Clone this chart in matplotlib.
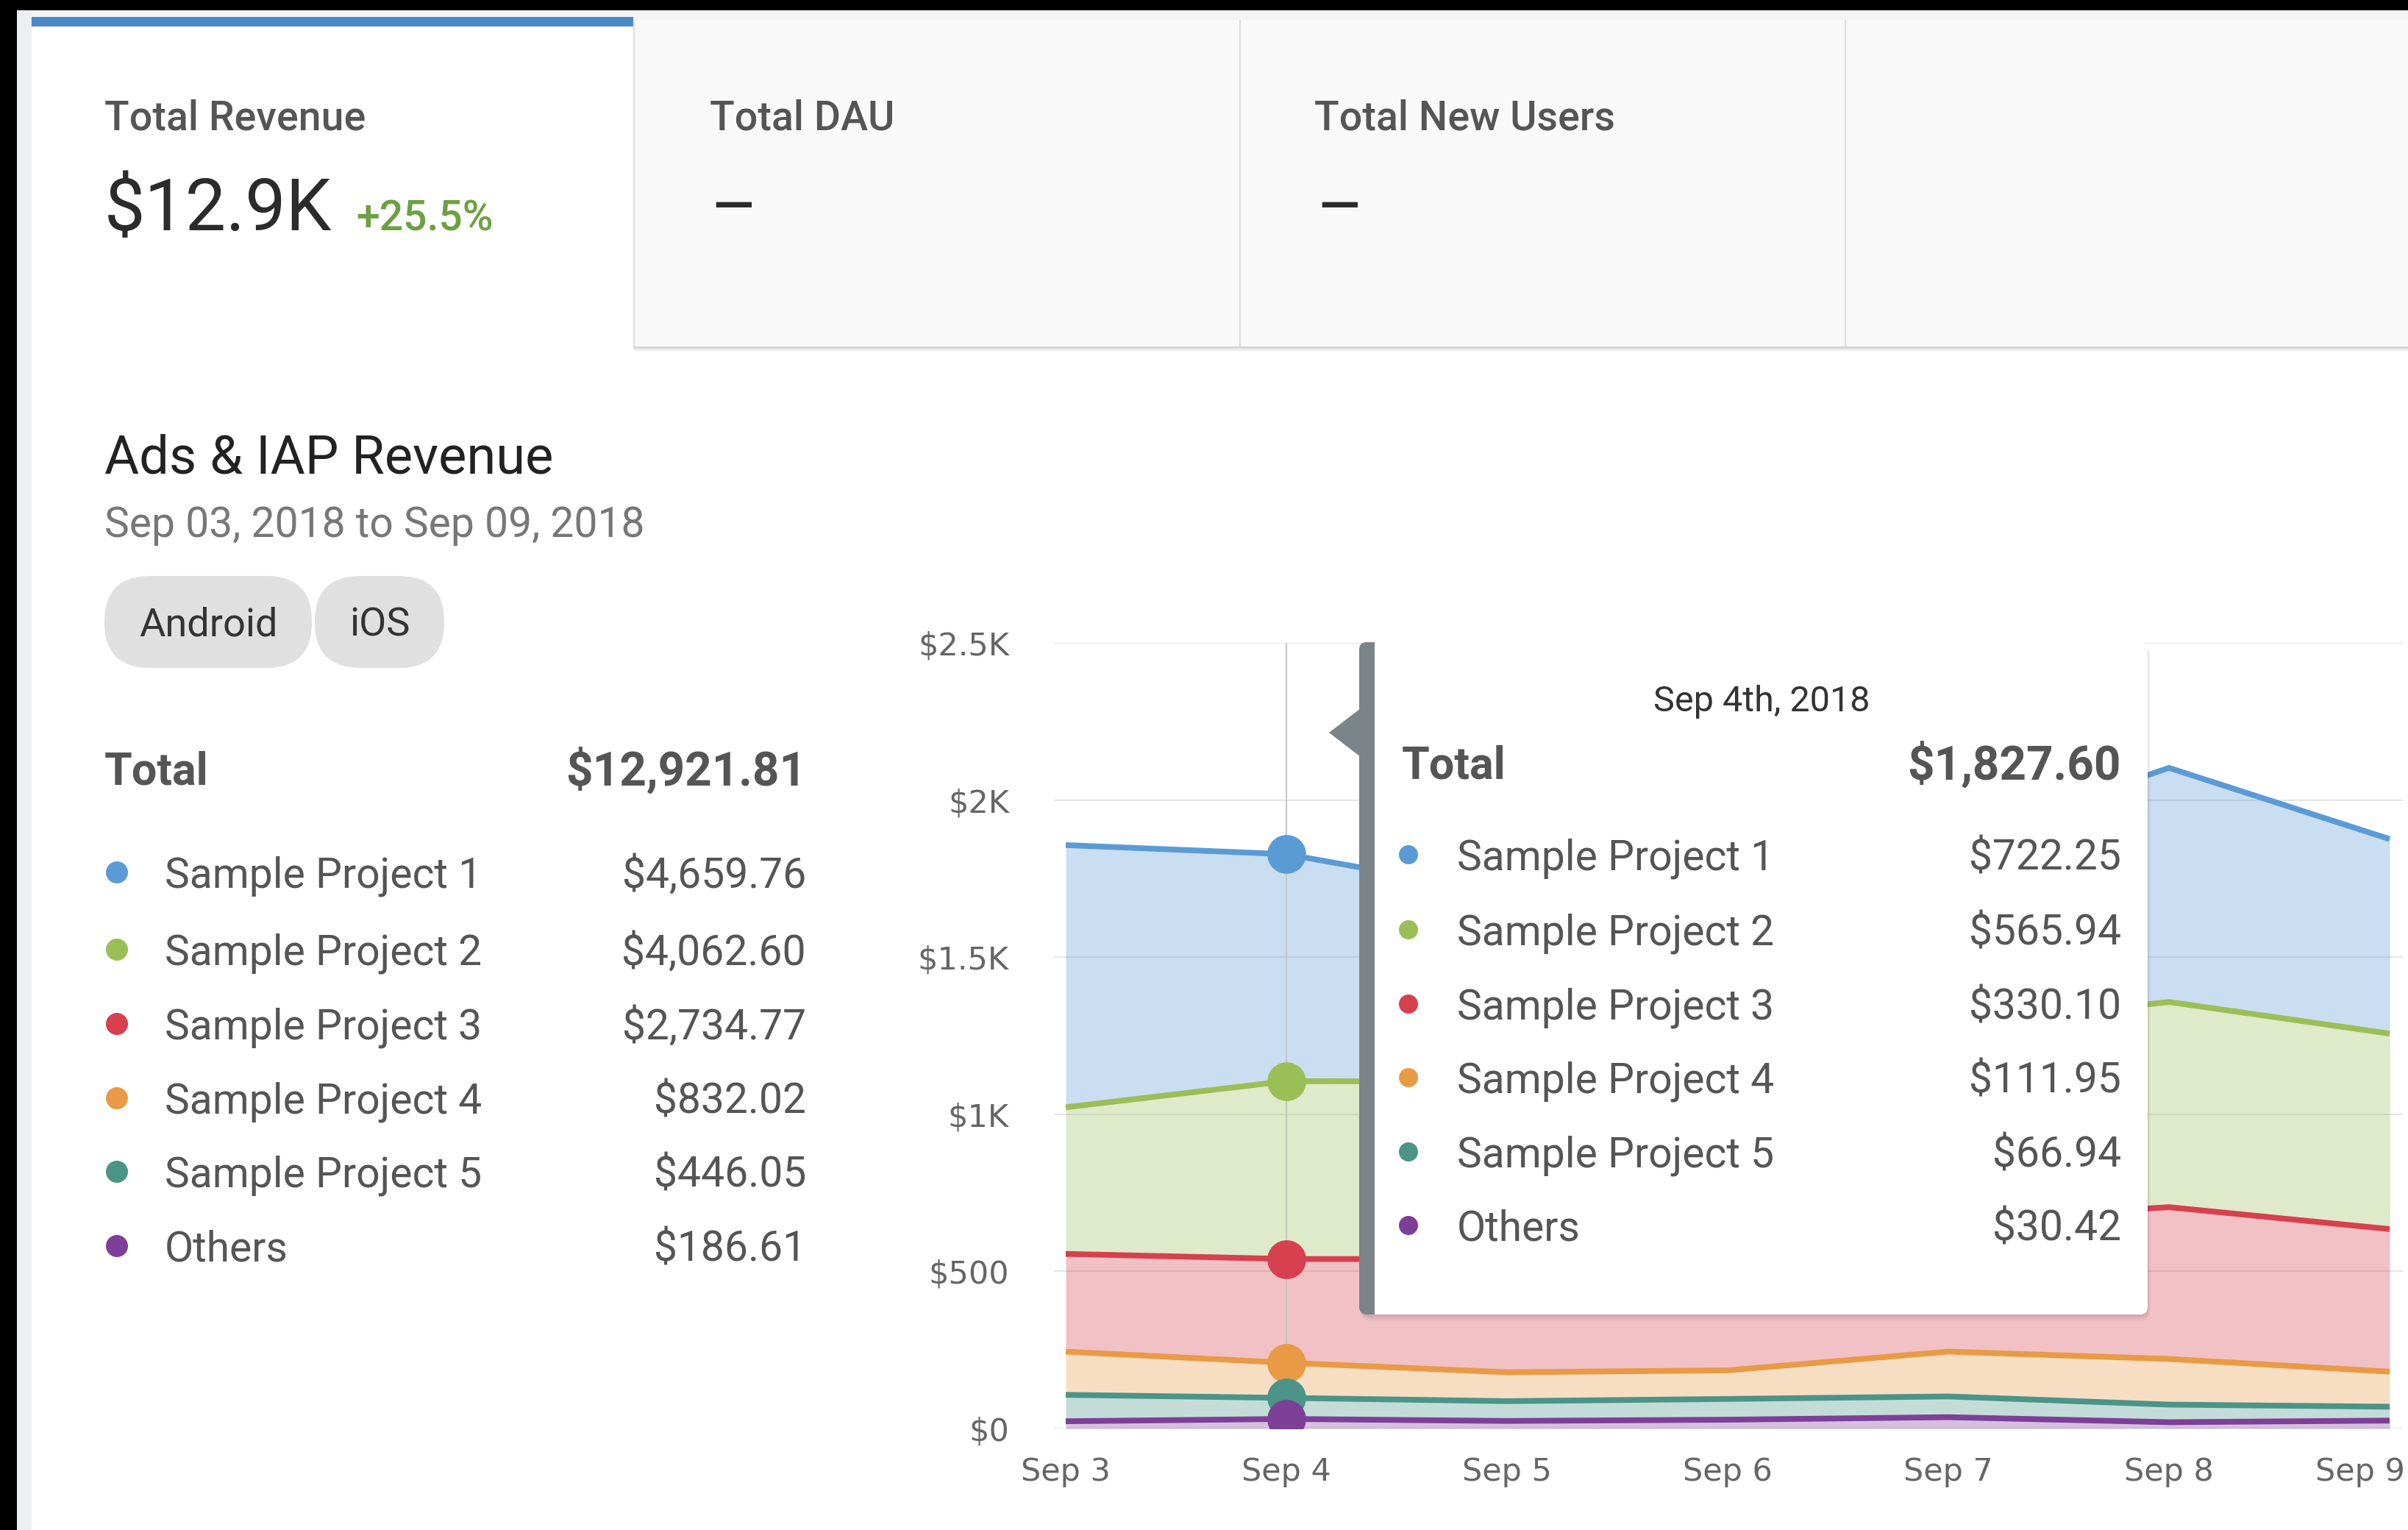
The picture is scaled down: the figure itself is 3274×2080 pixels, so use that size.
import matplotlib
matplotlib.use("Agg")
import matplotlib.pyplot as plt
from matplotlib.patches import FancyBboxPatch, Rectangle, Polygon, Circle
from matplotlib.transforms import ScaledTranslation
import numpy as np

# ---------------- data ----------------
days = ["Sep 3", "Sep 4", "Sep 5", "Sep 6", "Sep 7", "Sep 8", "Sep 9"]
series_names = ["Sample Project 1", "Sample Project 2", "Sample Project 3",
                "Sample Project 4", "Sample Project 5", "Others"]
sp1 = [834.5, 722.25, 598.0, 560.0, 581.0, 745.0, 619.01]
sp2 = [466.5, 565.94, 565.0, 570.0, 620.0, 653.0, 622.16]
sp3 = [311.0, 330.10, 360.0, 380.0, 417.0, 483.0, 453.67]
sp4 = [137.6, 111.95, 91.9, 91.0, 142.7, 145.3, 111.57]
sp5 = [84.0, 66.94, 63.0, 66.0, 66.0, 56.0, 44.11]
others = [23.0, 30.42, 24.0, 28.0, 36.0, 20.0, 25.19]

series_totals = ["$4,659.76", "$4,062.60", "$2,734.77", "$832.02", "$446.05", "$186.61"]
grand_total = "$12,921.81"
tooltip_date = "Sep 4th, 2018"
tooltip_total = "$1,827.60"
tooltip_values = ["$722.25", "$565.94", "$330.10", "$111.95", "$66.94", "$30.42"]
highlight_day = 1

y_ticks = [0, 500, 1000, 1500, 2000, 2500]
y_tick_labels = ["$0", "$500", "$1K", "$1.5K", "$2K", "$2.5K"]

card_titles = ["Total Revenue", "Total DAU", "Total New Users"]
card_value = "$12.9K"
card_change = "+25.5%"
section_title = "Ads & IAP Revenue"
date_range = "Sep 03, 2018 to Sep 09, 2018"
platforms = ["Android", "iOS"]

colors = ["#5b9bd5", "#9bbf57", "#d6404f", "#e89a45", "#4a9488", "#7d3f98"]

# ---------------- figure ----------------
W, H = 3274, 2080
DPI = 100
fig = plt.figure(figsize=(W / DPI, H / DPI), dpi=DPI)
fig.patch.set_facecolor("white")

bg = fig.add_axes([0, 0, 1, 1], zorder=0)
bg.set_xlim(0, W)
bg.set_ylim(H, 0)
bg.axis("off")

FONT = "Roboto"


def txt(ax, x, yc, s, pt, color, weight="normal", ha="left"):
    px = pt * DPI / 72.0
    base = yc + 0.355 * px
    ax.text(x, base, s, fontsize=pt, color=color, fontweight=weight,
            ha=ha, va="baseline", family=FONT)


# frame / sidebar
bg.add_patch(Rectangle((0, 0), W, 14, color="black", lw=0))
bg.add_patch(Rectangle((0, 0), 23, H, color="black", lw=0))
bg.add_patch(Rectangle((23, 14), 20, H, color="#eceef1", lw=0))
bg.add_patch(Rectangle((43, 14), W - 43, 13, color="#f3f4f3", lw=0))

# cards
bg.add_patch(Rectangle((43, 23), 818, 460, color="white", lw=0))
bg.add_patch(Rectangle((43, 23), 818, 13, color="#4a89c8", lw=0))
bg.add_patch(Rectangle((863, 27), W - 863, 444, color="#f9f9f9", lw=0))
for xv in [862, 1686, 2509]:
    bg.plot([xv, xv], [27, 472], color="#dedede", lw=1.6, solid_capstyle="butt")
bg.plot([862, W], [472, 472], color="#d6d6d6", lw=2.2)
bg.plot([862, W], [475, 475], color="#ededed", lw=2.0)

card_x = [142, 965, 1787]
for cx, t in zip(card_x, card_titles):
    txt(bg, cx, 157, t, 40, "#555555", weight="medium")
bg.text(142, 313, card_value, fontsize=71, color="#2b2b2b", family=FONT,
        ha="left", va="baseline")
bg.text(484, 313, card_change, fontsize=41, color="#6ea042", family=FONT,
        ha="left", va="baseline", fontweight="medium")
for dx in [965, 1789]:
    bg.text(dx, 313, "\u2013", fontsize=71, color="#2b2b2b", family=FONT,
            ha="left", va="baseline")

# section header
txt(bg, 142, 618, section_title, 52, "#222222")
txt(bg, 142, 710, date_range, 41, "#777777")

pill_x = [(142, 282), (428, 176)]
for (px0, pw), lab in zip(pill_x, platforms):
    bg.add_patch(FancyBboxPatch((px0, 783), pw, 125,
                                boxstyle="round,pad=0,rounding_size=62",
                                fc="#e0e0e0", ec="none"))
    txt(bg, px0 + pw / 2, 845, lab, 39, "#333333", ha="center")

# left legend / totals
txt(bg, 142, 1045, "Total", 44, "#555555", weight="bold")
txt(bg, 1096, 1045, grand_total, 46, "#555555", weight="bold", ha="right")
row_y = [1186, 1291, 1392, 1493, 1593, 1694]
for yy, name, val, col in zip(row_y, series_names, series_totals, colors):
    bg.add_patch(Circle((159, yy), 15, color=col, lw=0))
    txt(bg, 224, yy, name, 41, "#555555")
    txt(bg, 1096, yy, val, 41, "#555555", ha="right")

# ---------------- chart ----------------
L, R, T, B = 1433, 3267, 874, 1942
ax = fig.add_axes([L / W, 1 - B / H, (R - L) / W, (B - T) / H], zorder=1)
ax.set_facecolor("none")
x = np.arange(len(days))
stack = np.vstack([sp1, sp2, sp3, sp4, sp5, others])  # legend order (top of stack first)
cum = np.cumsum(stack[::-1], axis=0)[::-1]
lowers = np.vstack([cum[1:], np.zeros(len(days))])

for i in range(len(series_names)):
    ax.fill_between(x, lowers[i], cum[i], color=colors[i], alpha=0.32, lw=0, zorder=1)

ax.axvline(highlight_day, color="#c4c4c4", lw=1.4, zorder=2)

for i in range(len(series_names)):
    ax.plot(x, cum[i], color=colors[i], lw=5.6, zorder=3 + i * 0.01,
            solid_joinstyle="round", solid_capstyle="butt")
for i in range(len(series_names)):
    ax.plot([highlight_day], [cum[i][highlight_day]], "o", color=colors[i],
            markersize=38, markeredgewidth=0, zorder=4 + i * 0.01)

ax.set_xlim(-(1449 - L) / 300.0, 6 + (R - 3249) / 300.0)
ax.set_ylim(0, 2500)
ax.set_yticks(y_ticks)
ax.set_yticklabels(y_tick_labels)
ax.set_xticks(x)
ax.set_xticklabels(days)
ax.grid(axis="y", color="#e6e6e6", lw=1.5)
ax.set_axisbelow(True)
for s in ax.spines.values():
    s.set_visible(False)
ax.tick_params(axis="both", length=0, labelsize=31, labelcolor="#666666")
ax.tick_params(axis="y", pad=44)
ax.tick_params(axis="x", pad=27)
last = ax.get_xticklabels()[-1]
last.set_transform(last.get_transform() + ScaledTranslation(-0.40, 0, fig.dpi_scale_trans))

# ---------------- tooltip ----------------
ov = fig.add_axes([0, 0, 1, 1], zorder=5)
ov.set_xlim(0, W)
ov.set_ylim(H, 0)
ov.axis("off")
ov.patch.set_alpha(0)

bx0, by0, bx1, by1 = 1848, 873, 2920, 1787
for k, a in [(9, 0.03), (6, 0.04), (3, 0.05)]:
    ov.add_patch(FancyBboxPatch((bx0 + k * 0.4, by0 + k), bx1 - bx0, by1 - by0,
                                boxstyle="round,pad=0,rounding_size=12",
                                fc="black", alpha=a, ec="none"))
ov.add_patch(FancyBboxPatch((bx0, by0), bx1 - bx0, by1 - by0,
                            boxstyle="round,pad=0,rounding_size=10",
                            fc="white", ec="none"))
ov.add_patch(FancyBboxPatch((bx0, by0), 44, by1 - by0,
                            boxstyle="round,pad=0,rounding_size=10",
                            fc="#7b8489", ec="none"))
ov.add_patch(Rectangle((1869, by0), 34, by1 - by0, fc="white", ec="none"))
ov.add_patch(Polygon([(1807, 996), (1850, 963), (1850, 1029)], closed=True,
                     fc="#7b8489", ec="none"))

txt(ov, 2395, 950, tooltip_date, 35, "#333333", ha="center")
txt(ov, 1906, 1037, "Total", 44, "#555555", weight="bold")
txt(ov, 2884, 1037, tooltip_total, 46, "#555555", weight="bold", ha="right")
tip_y = [1162, 1264, 1365, 1465, 1566, 1666]
for yy, name, val, col in zip(tip_y, series_names, tooltip_values, colors):
    ov.add_patch(Circle((1915, yy), 13, color=col, lw=0))
    txt(ov, 1981, yy, name, 41, "#555555")
    txt(ov, 2884, yy, val, 41, "#555555", ha="right")

fig.savefig("out.png", dpi=DPI, facecolor="white")
